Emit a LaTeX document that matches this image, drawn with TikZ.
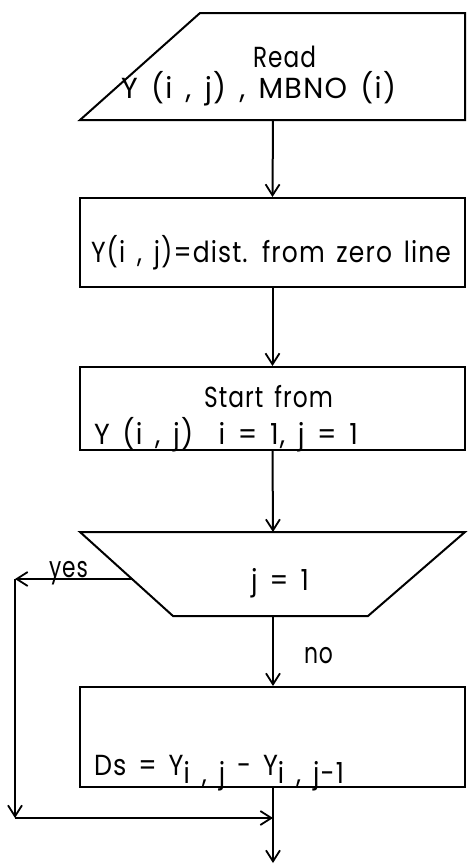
\documentclass[tikz,border=0pt]{standalone}
\usepackage{fontspec}
\usepackage{graphicx}
\setmainfont{Poppins}[FakeStretch=0.88, LetterSpace=4]
\usetikzlibrary{arrows.meta}
\newcommand{\flowfont}{\fontsize{29}{31}\selectfont\spaceskip=12pt\relax}
\newcommand{\fitto}[2]{\resizebox{#1}{\height}{#2}}
\begin{document}
\begin{tikzpicture}[x=1pt,y=-1pt,
  line width=2pt,
  every node/.style={font=\flowfont, inner sep=0pt},
  box/.style={draw, minimum width=385pt, line width=2pt},
  flow/.style={-{Straight Barb[length=11pt,width=14pt,line width=1.8pt]}},
  lbl/.style={anchor=base west},
  clbl/.style={anchor=base}
]
\useasboundingbox (0,0) rectangle (467,865);
% Read (input) shape
\coordinate (r1) at (200,13);
\coordinate (r2) at (465,13);
\coordinate (r3) at (465,120);
\coordinate (r4) at (80,120);
\draw (r1) -- (r2) -- (r3) -- (r4) -- cycle;
\coordinate (readS) at (273,120);
\node[lbl] (tread) at (252,67) {\fitto{63pt}{Read}};
\node[lbl] (tread2) at (120,98) {\fitto{275pt}{Y (i , j) , MBNO (i)}};
% box 2
\node[box, minimum height=89pt] (calc) at (272.5,242.5) {};
\node[lbl] (tcalc) at (90,262) {\fitto{360pt}{Y(i , j)=dist. from zero line}};
% box 3
\node[box, minimum height=83pt] (start) at (272.5,408.5) {};
\node[lbl] (tstart) at (203,407) {\fitto{129pt}{Start from}};
\node[lbl] (tstart2) at (93,444) {\fitto{264pt}{Y (i , j)\hspace{12pt} i = 1, j = 1}};
% decision trapezoid
\coordinate (d1) at (80,532);
\coordinate (d2) at (465,532);
\coordinate (d3) at (368,616);
\coordinate (d4) at (173,616);
\draw (d1) -- (d2) -- (d3) -- (d4) -- cycle;
\coordinate (decN) at (273,532);
\coordinate (decS) at (273,616);
\coordinate (decW) at (133,579);
\node[lbl] (tdec) at (250,590) {\fitto{58pt}{j = 1}};
% box 4
\node[box, minimum height=100pt] (ds) at (272.5,737) {};
\node[lbl] (tds) at (93,775) {\fitto{250pt}{Ds = Y\raisebox{-8pt}{i , j} - Y\raisebox{-8pt}{i , j-1}}};
% connectors
\coordinate (yesC) at (15,579);
\coordinate (joinL) at (15,818);
\coordinate (join) at (273,818);
\coordinate (out) at (273,863);
\draw[flow] (readS) -- (calc.north);
\draw[flow] (calc.south) -- (start.north);
\draw[flow] (start.south) -- (decN);
\draw[flow] (decS) -- (ds.north -| decS);
\node[lbl] (tno) at (303,663) {\fitto{29pt}{no}};
\draw[flow] (decW) -- (yesC);
\node[lbl] (tyes) at (48,577) {\fitto{39pt}{yes}};
\draw[flow] (yesC) -- (joinL);
\draw[flow] (joinL) -- (join);
\draw[flow] (ds.south -| join) -- (out);
\end{tikzpicture}
\end{document}
